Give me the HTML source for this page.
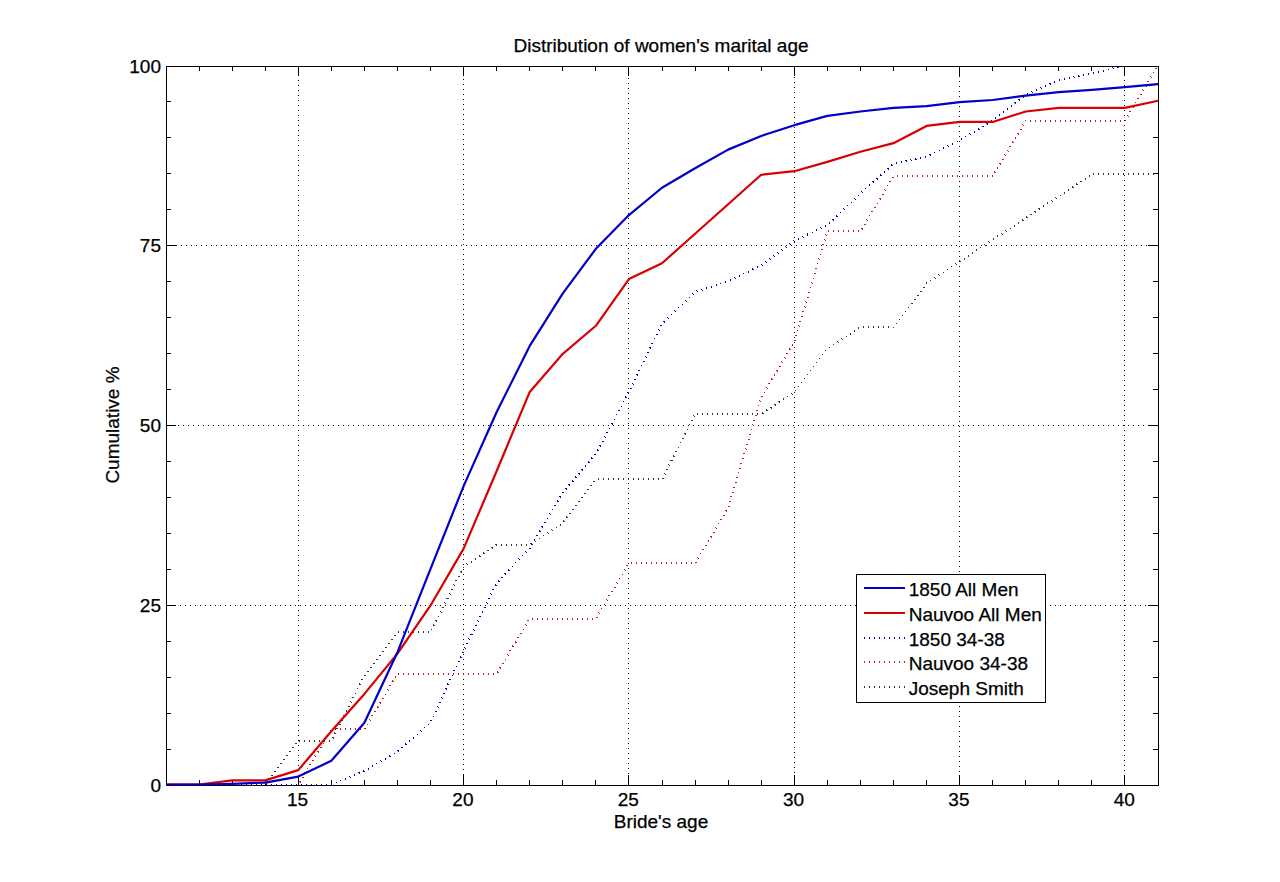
<!DOCTYPE html>
<html><head><meta charset="utf-8"><style>
html,body{margin:0;padding:0;background:#fff;width:1280px;height:882px;overflow:hidden}
svg{display:block}
.t{font-family:"Liberation Sans",sans-serif;font-size:19px;fill:#000;stroke:#000;stroke-width:0.25px}
</style></head><body>
<svg width="1280" height="882" viewBox="0 0 1280 882">
<rect width="1280" height="882" fill="#fff"/>
<line x1="298.5" y1="70" x2="298.5" y2="785" stroke="#000" stroke-width="1" stroke-dasharray="1 4"/>
<line x1="463.5" y1="69" x2="463.5" y2="785" stroke="#000" stroke-width="1" stroke-dasharray="1 4"/>
<line x1="628.5" y1="68" x2="628.5" y2="785" stroke="#000" stroke-width="1" stroke-dasharray="1 4"/>
<line x1="794.5" y1="67" x2="794.5" y2="785" stroke="#000" stroke-width="1" stroke-dasharray="1 4"/>
<line x1="959.5" y1="71" x2="959.5" y2="785" stroke="#000" stroke-width="1" stroke-dasharray="1 4"/>
<line x1="1124.5" y1="70" x2="1124.5" y2="785" stroke="#000" stroke-width="1" stroke-dasharray="1 4"/>
<line x1="170" y1="605.5" x2="1158" y2="605.5" stroke="#000" stroke-width="1" stroke-dasharray="1 4"/>
<line x1="168" y1="425.5" x2="1158" y2="425.5" stroke="#000" stroke-width="1" stroke-dasharray="1 4"/>
<line x1="171" y1="245.5" x2="1158" y2="245.5" stroke="#000" stroke-width="1" stroke-dasharray="1 4"/>
<rect x="166.5" y="66.5" width="992" height="719" fill="none" stroke="#000" stroke-width="1"/>
<path d="M166.5,785v-5M166.5,66v5M199.5,785v-5M199.5,66v5M232.5,785v-5M232.5,66v5M265.5,785v-5M265.5,66v5M298.5,785v-10M298.5,66v10M331.5,785v-5M331.5,66v5M364.5,785v-5M364.5,66v5M397.5,785v-5M397.5,66v5M430.5,785v-5M430.5,66v5M463.5,785v-10M463.5,66v10M496.5,785v-5M496.5,66v5M529.5,785v-5M529.5,66v5M562.5,785v-5M562.5,66v5M595.5,785v-5M595.5,66v5M628.5,785v-10M628.5,66v10M662.5,785v-5M662.5,66v5M695.5,785v-5M695.5,66v5M728.5,785v-5M728.5,66v5M761.5,785v-5M761.5,66v5M794.5,785v-10M794.5,66v10M827.5,785v-5M827.5,66v5M860.5,785v-5M860.5,66v5M893.5,785v-5M893.5,66v5M926.5,785v-5M926.5,66v5M959.5,785v-10M959.5,66v10M992.5,785v-5M992.5,66v5M1025.5,785v-5M1025.5,66v5M1058.5,785v-5M1058.5,66v5M1091.5,785v-5M1091.5,66v5M1124.5,785v-10M1124.5,66v10M1158.5,785v-5M1158.5,66v5M166,785.5h10M1158,785.5h-10M166,749.5h5M1158,749.5h-5M166,713.5h5M1158,713.5h-5M166,677.5h5M1158,677.5h-5M166,641.5h5M1158,641.5h-5M166,605.5h10M1158,605.5h-10M166,569.5h5M1158,569.5h-5M166,533.5h5M1158,533.5h-5M166,497.5h5M1158,497.5h-5M166,461.5h5M1158,461.5h-5M166,425.5h10M1158,425.5h-10M166,389.5h5M1158,389.5h-5M166,353.5h5M1158,353.5h-5M166,317.5h5M1158,317.5h-5M166,281.5h5M1158,281.5h-5M166,245.5h10M1158,245.5h-10M166,209.5h5M1158,209.5h-5M166,173.5h5M1158,173.5h-5M166,137.5h5M1158,137.5h-5M166,101.5h5M1158,101.5h-5M166,66.5h10M1158,66.5h-10" stroke="#000" stroke-width="1" fill="none"/>
<clipPath id="cp"><rect x="166" y="66.5" width="993" height="719"/></clipPath>
<g clip-path="url(#cp)"><path d="M166.00,784.50 L199.07,784.50 L232.13,784.50 L265.20,784.50 L298.27,740.92 L331.33,740.92 L364.40,675.56 L397.47,631.98 L430.53,631.98 L463.60,566.62 L496.67,544.83 L529.73,544.83 L562.80,523.05 L595.87,479.47 L628.93,479.47 L662.00,479.47 L695.07,414.11 L728.13,414.11 L761.20,414.11 L794.27,392.32 L827.33,348.74 L860.40,326.95 L893.47,326.95 L926.53,283.38 L959.60,261.59 L992.67,239.80 L1025.73,218.02 L1058.80,196.23 L1091.87,174.44 L1124.93,174.44 L1158.00,174.44" fill="none" stroke="#383838" stroke-width="2" stroke-dasharray="1 4" shape-rendering="crispEdges"/><path d="M166.00,784.50 L199.07,784.50 L232.13,784.50 L265.20,784.50 L298.27,784.50 L331.33,729.19 L364.40,729.19 L397.47,673.88 L430.53,673.88 L463.60,673.88 L496.67,673.88 L529.73,618.58 L562.80,618.58 L595.87,618.58 L628.93,563.27 L662.00,563.27 L695.07,563.27 L728.13,507.96 L761.20,397.35 L794.27,342.04 L827.33,231.42 L860.40,231.42 L893.47,176.12 L926.53,176.12 L959.60,176.12 L992.67,176.12 L1025.73,120.81 L1058.80,120.81 L1091.87,120.81 L1124.93,120.81 L1158.00,65.50" fill="none" stroke="#c01828" stroke-width="2" stroke-dasharray="1 4" shape-rendering="crispEdges"/><path d="M166.00,784.50 L199.07,784.50 L232.13,784.50 L265.20,784.50 L298.27,784.50 L331.33,784.50 L364.40,770.84 L397.47,751.43 L430.53,722.67 L463.60,650.77 L496.67,583.18 L529.73,547.95 L562.80,492.59 L595.87,453.76 L628.93,391.93 L662.00,323.62 L695.07,291.99 L728.13,281.20 L761.20,265.38 L794.27,240.94 L827.33,225.12 L860.40,193.48 L893.47,164.00 L926.53,156.81 L959.60,140.28 L992.67,120.86 L1025.73,94.98 L1058.80,79.88 L1091.87,73.41 L1124.93,65.50 L1158.00,65.50" fill="none" stroke="#0000c0" stroke-width="2" stroke-dasharray="1 4" shape-rendering="crispEdges"/><path d="M166.00,784.50 L199.07,784.50 L232.13,780.33 L265.20,780.33 L298.27,770.12 L331.33,731.29 L364.40,693.91 L397.47,653.64 L430.53,605.47 L463.60,548.67 L496.67,471.02 L529.73,391.93 L562.80,353.82 L595.87,325.78 L628.93,279.04 L662.00,263.23 L695.07,233.75 L728.13,204.27 L761.20,174.79 L794.27,171.19 L827.33,161.85 L860.40,151.78 L893.47,143.15 L926.53,125.90 L959.60,121.94 L992.67,121.94 L1025.73,111.52 L1058.80,107.92 L1091.87,107.92 L1124.93,107.92 L1158.00,100.73" fill="none" stroke="#d80000" stroke-width="2.2" stroke-linejoin="round"/><path d="M166.00,784.50 L199.07,784.50 L232.13,783.78 L265.20,782.63 L298.27,776.59 L331.33,760.77 L364.40,722.67 L397.47,652.20 L430.53,568.80 L463.60,486.12 L496.67,412.06 L529.73,345.91 L562.80,293.42 L595.87,248.85 L628.93,215.05 L662.00,187.73 L695.07,168.32 L728.13,149.62 L761.20,135.96 L794.27,125.18 L827.33,115.83 L860.40,111.52 L893.47,107.92 L926.53,106.12 L959.60,102.17 L992.67,100.01 L1025.73,95.70 L1058.80,92.10 L1091.87,89.95 L1124.93,87.07 L1158.00,84.19" fill="none" stroke="#0000c8" stroke-width="2.2" stroke-linejoin="round"/></g>
<rect x="856.5" y="574.5" width="189" height="128" fill="#fff" stroke="#000" stroke-width="1"/>
<line x1="864" y1="588" x2="905" y2="588" stroke="#0000c8" stroke-width="2.2"/>
<text x="908.7" y="595.5" class="t">1850 All Men</text>
<line x1="864" y1="613" x2="905" y2="613" stroke="#d80000" stroke-width="2.2"/>
<text x="908.7" y="620.5" class="t">Nauvoo All Men</text>
<line x1="864" y1="638" x2="906" y2="638" stroke="#0000c0" stroke-width="2" stroke-dasharray="1 4"/>
<text x="908.7" y="645.5" class="t">1850 34-38</text>
<line x1="864" y1="662" x2="906" y2="662" stroke="#c01828" stroke-width="2" stroke-dasharray="1 4"/>
<text x="908.7" y="669.5" class="t">Nauvoo 34-38</text>
<line x1="864" y1="687" x2="906" y2="687" stroke="#383838" stroke-width="2" stroke-dasharray="1 4"/>
<text x="908.7" y="694.5" class="t">Joseph Smith</text>
<text x="297.6" y="806" class="t" text-anchor="middle">15</text>
<text x="462.9" y="806" class="t" text-anchor="middle">20</text>
<text x="628.2" y="806" class="t" text-anchor="middle">25</text>
<text x="793.6" y="806" class="t" text-anchor="middle">30</text>
<text x="958.9" y="806" class="t" text-anchor="middle">35</text>
<text x="1124.2" y="806" class="t" text-anchor="middle">40</text>
<text x="161" y="791.5" class="t" text-anchor="end">0</text>
<text x="161" y="611.8" class="t" text-anchor="end">25</text>
<text x="161" y="432.0" class="t" text-anchor="end">50</text>
<text x="161" y="252.2" class="t" text-anchor="end">75</text>
<text x="161" y="72.5" class="t" text-anchor="end">100</text>
<text x="661" y="52" class="t" text-anchor="middle">Distribution of women's marital age</text>
<text x="661" y="828" class="t" text-anchor="middle">Bride's age</text>
<text x="0" y="0" class="t" text-anchor="middle" transform="translate(119,425) rotate(-90)">Cumulative %</text>
</svg>
</body></html>
